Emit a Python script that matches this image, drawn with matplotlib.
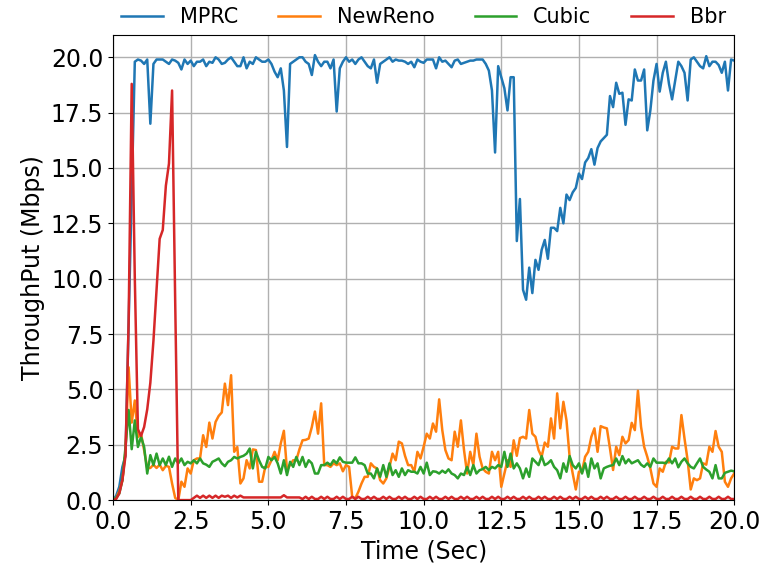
import numpy as np
import matplotlib
matplotlib.use("Agg")
import matplotlib.pyplot as plt

# sample times (sec), one sample every 0.1 s
time = np.round(np.arange(0, 201) * 0.1, 1)

mprc = [
    0.0, 0.2, 0.6, 1.5, 2.0, 8.0, 14.0, 19.8, 19.9, 19.85,
    19.7, 19.9, 17.0, 19.7, 19.9, 19.9, 19.9, 19.8, 19.7, 19.9,
    19.85, 19.75, 19.45, 19.9, 19.7, 19.85, 19.6, 19.8, 19.8, 19.9,
    19.6, 19.8, 19.75, 20.0, 19.9, 19.7, 19.75, 19.9, 20.0, 19.8,
    19.6, 19.6, 20.0, 19.5, 19.8, 19.7, 20.0, 19.9, 19.8, 19.8,
    19.9, 19.7, 19.35, 19.1, 19.5, 18.5, 15.95, 19.7, 19.8, 19.9,
    20.0, 20.0, 19.8, 19.7, 19.2, 20.1, 19.8, 19.6, 19.8, 19.8,
    19.5, 19.9, 17.55, 19.5, 19.8, 20.0, 19.8, 19.9, 19.7, 19.9,
    20.0, 19.8, 19.6, 19.5, 19.9, 18.85, 19.7, 19.8, 19.9, 20.0,
    19.8, 19.9, 19.85, 19.85, 19.8, 19.7, 19.8, 19.55, 19.9, 19.8,
    19.75, 19.9, 19.9, 19.9, 19.5, 20.0, 19.8, 19.85, 19.7, 19.55,
    19.85, 19.9, 19.7, 19.75, 19.8, 19.85, 19.85, 19.9, 19.9, 19.9,
    19.7, 19.4, 18.5, 15.7, 19.6, 19.1, 18.6, 17.6, 19.1, 19.1,
    11.7, 13.6, 9.5, 9.05, 10.5, 9.35, 10.85, 10.4, 11.3, 11.75,
    10.9, 12.3, 12.3, 12.15, 13.2, 12.5, 13.8, 13.55, 13.9, 14.1,
    14.75, 14.5, 15.25, 15.45, 15.85, 15.15, 15.9, 16.2, 16.35, 16.5,
    18.25, 17.75, 18.85, 18.35, 18.4, 16.95, 18.1, 18.05, 19.45, 18.95,
    18.95, 19.45, 16.7, 17.6, 18.95, 19.7, 18.45, 19.3, 19.8, 18.8,
    18.1, 18.95, 19.8, 19.6, 19.3, 18.05, 19.9, 20.0, 19.8, 19.6,
    19.5, 20.05, 19.6, 19.8, 19.8, 19.65, 19.3, 19.8, 18.5, 19.9,
    19.85,
]

newreno = [
    0.0, 0.1, 0.4, 0.9, 2.2, 6.0, 3.5, 4.5, 2.85, 3.0,
    2.25, 1.45, 1.45, 1.6, 1.45, 1.6, 1.35, 1.55, 1.5, 0.75,
    0.1, 0.0, 0.83, 0.6, 1.43, 1.2, 1.8, 1.88, 1.88, 2.93,
    2.4, 3.5, 2.78, 3.53, 3.8, 3.96, 5.26, 4.29, 5.64, 2.18,
    2.4, 0.75, 0.98, 1.8, 1.43, 2.29, 2.26, 0.83, 0.83, 1.5,
    1.5, 1.8, 2.18, 1.8, 2.56, 3.13, 1.35, 1.6, 1.8, 1.8,
    2.29, 2.7, 2.72, 2.78, 3.3, 4.0, 3.0, 4.37, 1.58, 1.58,
    1.5, 1.66, 1.58, 1.66, 1.3, 1.58, 1.5, 0.15, 0.08, 0.38,
    0.75, 1.05, 1.05, 1.66, 1.5, 1.43, 0.9, 0.75, 0.98, 1.5,
    2.1, 1.8, 2.64, 2.56, 2.0, 1.58, 1.58, 1.28, 2.18, 1.88,
    2.41, 3.0, 2.78, 3.46, 3.09, 4.55, 3.16, 2.26, 1.88, 1.8,
    3.09, 2.41, 3.6, 2.26, 1.2, 2.18, 1.58, 3.0, 1.96, 1.43,
    1.28, 1.2, 2.18, 1.8, 2.18, 0.6, 1.2, 1.8, 1.5, 2.7,
    2.0, 2.8, 2.86, 2.78, 4.07, 3.0, 2.86, 2.26, 1.96, 2.6,
    2.41, 3.69, 2.78, 4.82, 3.24, 4.44, 3.6, 1.96, 1.2, 0.48,
    1.28, 1.3, 1.96, 2.18, 2.86, 3.24, 2.18, 3.34, 3.28, 3.24,
    2.33, 1.36, 2.41, 2.03, 2.86, 2.56, 2.71, 3.49, 3.16, 4.94,
    3.31, 2.41, 1.96, 1.43, 0.75, 0.6, 1.43, 1.28, 1.73, 1.7,
    2.41, 2.33, 2.33, 3.84, 2.78, 1.8, 0.48, 0.98, 0.9, 0.98,
    1.66, 1.6, 2.41, 2.18, 3.12, 2.41, 2.18, 0.83, 0.6, 0.98,
    1.2,
]

cubic = [
    0.0, 0.1, 0.3, 0.9, 2.4, 4.07, 2.3, 3.6, 2.4, 2.86,
    2.4, 1.2, 2.03, 1.58, 2.1, 1.58, 1.88, 1.58, 1.96, 1.5,
    1.88, 1.66, 1.88, 1.58, 1.73, 1.66, 1.8, 1.66, 1.88, 1.66,
    1.6, 1.5, 1.73, 1.8, 1.88, 1.66, 1.53, 1.73, 1.8, 1.95,
    1.88, 1.95, 2.0, 2.1, 2.33, 1.43, 2.18, 1.8, 1.5, 1.43,
    1.95, 1.8, 1.95, 1.66, 1.2, 1.8, 1.13, 1.73, 1.5, 1.95,
    1.58, 1.95, 1.5, 1.8, 1.66, 1.2, 1.2, 1.58, 1.58, 1.69,
    1.58, 1.8, 1.66, 1.93, 1.73, 1.69, 1.69, 1.69, 1.93, 1.66,
    1.66, 1.58, 1.2, 1.2, 0.98, 1.43, 1.05, 1.58, 1.05, 1.66,
    1.13, 1.35, 1.05, 1.43, 1.13, 1.35, 1.28, 1.28, 1.2, 1.5,
    1.2, 1.69, 1.13, 1.3, 1.28, 1.2, 1.33, 1.23, 1.39, 1.2,
    1.13, 0.98, 1.2, 1.13, 1.5, 1.13, 1.58, 1.2, 1.35, 1.4,
    1.5, 1.35, 1.5, 1.43, 1.58, 1.5, 2.18, 1.5, 2.1, 1.43,
    1.66, 1.43, 0.98, 1.43, 1.05, 1.88, 1.73, 1.58, 1.99, 1.58,
    1.66, 1.8, 1.5, 1.35, 0.98, 1.66, 1.28, 1.99, 1.58, 1.43,
    1.66, 1.2, 1.66, 1.05, 1.88, 1.43, 1.66, 0.98, 1.43, 1.5,
    1.55, 1.58, 1.88, 1.58, 1.99, 1.66, 1.84, 1.66, 1.73, 1.8,
    1.6, 1.5, 1.66, 1.5, 1.88, 1.69, 1.69, 1.69, 1.66, 1.88,
    1.66, 1.88, 1.48, 1.73, 1.88, 1.66, 1.5, 1.43, 1.66, 1.88,
    1.5, 1.38, 1.28, 0.98, 1.58, 0.98, 0.98, 1.23, 1.28, 1.33,
    1.3,
]

bbr = [
    0.0, 0.05, 0.3, 0.9, 2.0, 8.0, 18.8, 10.0, 3.2, 2.9,
    3.3, 4.1, 5.3, 7.2, 9.5, 11.8, 12.2, 14.2, 15.2, 18.5,
    9.0, 0.0, 0.0, 0.0, 0.0, 0.0, 0.1, 0.2, 0.1, 0.2,
    0.1, 0.2, 0.1, 0.2, 0.1, 0.2, 0.15, 0.2, 0.1, 0.2,
    0.12, 0.2, 0.12, 0.12, 0.12, 0.12, 0.12, 0.12, 0.12, 0.12,
    0.12, 0.12, 0.12, 0.12, 0.12, 0.22, 0.12, 0.12, 0.12, 0.12,
    0.12, 0.05, 0.15, 0.05, 0.15, 0.05, 0.05, 0.15, 0.05, 0.15,
    0.05, 0.05, 0.15, 0.05, 0.15, 0.05, 0.05, 0.15, 0.05, 0.15,
    0.05, 0.05, 0.15, 0.05, 0.15, 0.05, 0.05, 0.15, 0.05, 0.15,
    0.05, 0.05, 0.15, 0.05, 0.15, 0.05, 0.05, 0.15, 0.05, 0.15,
    0.05, 0.05, 0.15, 0.05, 0.15, 0.05, 0.05, 0.15, 0.05, 0.15,
    0.05, 0.05, 0.15, 0.05, 0.15, 0.05, 0.05, 0.15, 0.05, 0.15,
    0.05, 0.05, 0.15, 0.05, 0.15, 0.05, 0.05, 0.15, 0.05, 0.15,
    0.05, 0.05, 0.15, 0.05, 0.15, 0.05, 0.05, 0.15, 0.05, 0.15,
    0.05, 0.05, 0.15, 0.05, 0.15, 0.05, 0.05, 0.15, 0.05, 0.15,
    0.05, 0.05, 0.15, 0.05, 0.15, 0.05, 0.05, 0.15, 0.05, 0.15,
    0.05, 0.05, 0.15, 0.05, 0.05, 0.15, 0.05, 0.05, 0.15, 0.05,
    0.05, 0.15, 0.05, 0.05, 0.15, 0.05, 0.05, 0.15, 0.05, 0.05,
    0.15, 0.05, 0.05, 0.15, 0.05, 0.05, 0.15, 0.05, 0.05, 0.15,
    0.05, 0.05, 0.15, 0.05, 0.05, 0.15, 0.05, 0.05, 0.15, 0.05,
    0.05,
]

series = [("MPRC", mprc), ("NewReno", newreno), ("Cubic", cubic), ("Bbr", bbr)]

fig = plt.figure(figsize=(7.64, 5.67), dpi=100)
ax = fig.add_axes([0.148, 0.118, 0.813, 0.82])

for name, vals in series:
    ax.plot(time, vals, label=name, linewidth=1.8)

ax.set_xlim(0, 20)
ax.set_ylim(0, 21)
ax.set_xticks(np.arange(0, 20.1, 2.5))
ax.set_yticks(np.arange(0, 20.1, 2.5))
ax.xaxis.set_major_formatter(matplotlib.ticker.FormatStrFormatter("%.1f"))
ax.yaxis.set_major_formatter(matplotlib.ticker.FormatStrFormatter("%.1f"))
ax.tick_params(labelsize=17)
ax.grid(True, color="#b0b0b0", linewidth=1.0)
ax.set_xlabel("Time (Sec)", fontsize=17)
ax.set_ylabel("ThroughPut (Mbps)", fontsize=17)

ax.legend(loc="lower left", bbox_to_anchor=(0, 1.0, 1, 0.1), mode="expand",
          ncol=4, frameon=False, fontsize=15, borderaxespad=0)

plt.savefig("out.png", dpi=100)
